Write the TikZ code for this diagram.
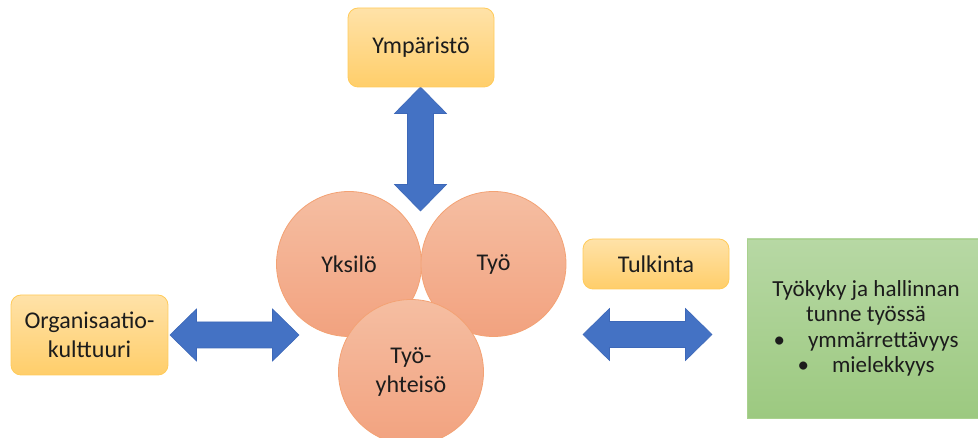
\documentclass[tikz,border=0pt]{standalone}
\usepackage{fontspec}
\setmainfont{Carlito}

\definecolor{boxtop}{HTML}{FFE2A8}
\definecolor{boxbot}{HTML}{FFCE6A}
\definecolor{boxline}{HTML}{FFCB5A}
\definecolor{balltop}{HTML}{F5BEA2}
\definecolor{ballbot}{HTML}{F2A27F}
\definecolor{ballline}{HTML}{F3A274}
\definecolor{greentop}{HTML}{B7D8A4}
\definecolor{greenbot}{HTML}{9CC980}
\definecolor{greenline}{HTML}{A9D18E}
\definecolor{arrowblue}{HTML}{4472C4}
\definecolor{arrowline}{HTML}{3D68B8}
\definecolor{ink}{HTML}{1C1C1C}

% double-headed block arrow, #1 = half of its length
\tikzset{pics/dblarrow/.style={code={
  \path[fill=arrowblue, draw=arrowline, line width=0.6pt, line join=miter]
    ({-#1},0) -- ({-#1+26.5},-26) -- ({-#1+26.5},-13) -- ({#1-26.5},-13)
    -- ({#1-26.5},-26) -- ({#1},0) -- ({#1-26.5},26) -- ({#1-26.5},13)
    -- ({-#1+26.5},13) -- ({-#1+26.5},26) -- cycle;
}}}

\begin{document}
\begin{tikzpicture}[x=1pt, y=-1pt,
  every node/.style={text=ink, font=\fontsize{24}{29}\selectfont, inner sep=0pt},
  ybox/.style={rounded corners=10pt, top color=boxtop, bottom color=boxbot,
    draw=boxline, line width=0.8pt, align=center},
  ball/.style={circle, minimum size=145pt, top color=balltop, bottom color=ballbot,
    draw=ballline, line width=0.8pt, align=center},
  gbox/.style={top color=greentop, bottom color=greenbot, draw=greenline,
    line width=0.8pt, align=center, font=\fontsize{23}{25.5}\selectfont}
]
\useasboundingbox (0,0) rectangle (978,438);

% block arrows
\coordinate (upDown) at (420.5,149);
\coordinate (leftArrow) at (234.5,335);
\coordinate (rightArrow) at (647.5,334.5);
\pic[rotate=90] at (upDown) {dblarrow=62};
\pic at (leftArrow) {dblarrow=64.5};
\pic at (rightArrow) {dblarrow=64.5};

% boxes
\node[ybox, minimum width=146pt, minimum height=79pt] (env) at (421,47.5) {Ympäristö};
\node[ybox, minimum width=157pt, minimum height=80pt] (org) at (89.5,335) {Organisaatio-\\kulttuuri};
\node[ybox, minimum width=146pt, minimum height=50pt] (interp) at (656,264) {Tulkinta};
\node[gbox, minimum width=238pt, minimum height=179pt] (result) at (866,328.5)
  {Työkyky ja hallinnan\\tunne työssä\\\textbullet\hspace{23pt}ymmärrettävyys\\\textbullet\hspace{23pt}mielekkyys};

% circles
\node[ball] (indiv) at (349,264) {Yksilö};
\node[ball] (work) at (493.5,264) {Työ};
\node[ball] (community) at (411,372) {Työ-\\yhteisö};
\end{tikzpicture}
\end{document}
